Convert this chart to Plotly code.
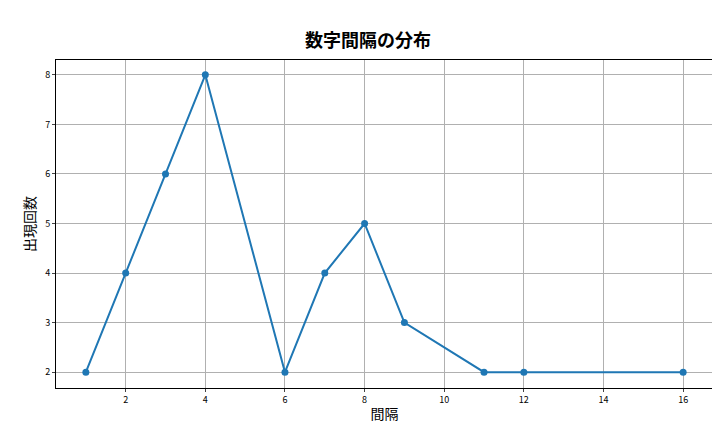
import plotly.graph_objects as go

intervals = [1, 2, 3, 4, 6, 7, 8, 9, 11, 12, 16]
counts = [2, 4, 6, 8, 2, 4, 5, 3, 2, 2, 2]

font = "Noto Sans CJK JP"
fig = go.Figure(go.Scatter(x=intervals, y=counts, mode="lines+markers",
                           line=dict(color="#1f77b4", width=2),
                           marker=dict(size=7, color="#1f77b4")))
axis = dict(showgrid=True, gridcolor="#b0b0b0", gridwidth=1, zeroline=False,
            showline=True, mirror=True, linecolor="black", linewidth=1, automargin=False,
            ticks="outside", ticklen=3, tickfont=dict(size=9, color="black", family=font))
fig.update_layout(
    width=720, height=432, plot_bgcolor="white", paper_bgcolor="white",
    margin=dict(l=48, r=15, t=52, b=52, autoexpand=False),
    title=dict(text="<b>数字間隔の分布</b>", x=0.5, xanchor="center", y=0.94,
               font=dict(size=18, family=font, color="black")),
    showlegend=False,
    font=dict(family=font),
)
fig.update_xaxes(axis, range=[0.25, 16.75], tickvals=[2, 4, 6, 8, 10, 12, 14, 16],
                 title=dict(text="間隔", font=dict(size=14, color="black"), standoff=4))
fig.update_yaxes(axis, range=[1.68, 8.3], tickvals=[2, 3, 4, 5, 6, 7, 8],
                 title=dict(text="出現回数", font=dict(size=14, color="black"), standoff=6))
fig.write_html("out.html")
